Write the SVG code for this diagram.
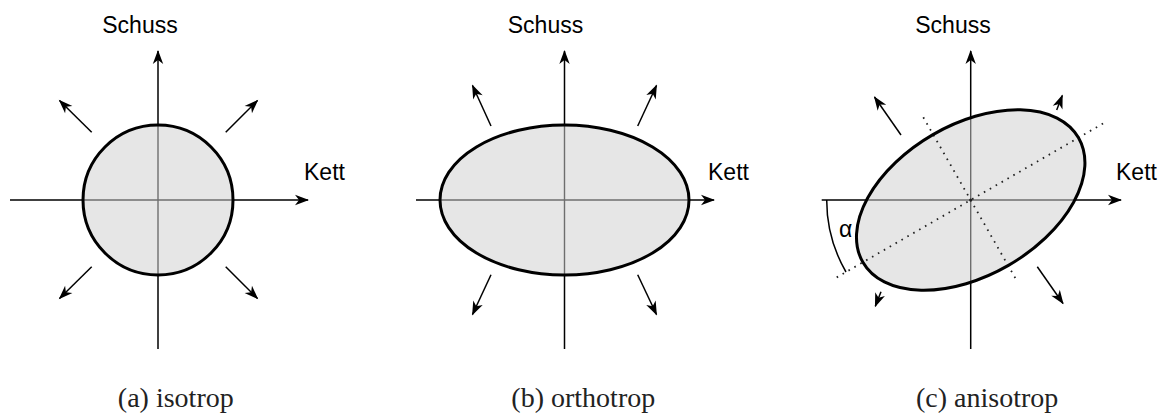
<svg xmlns="http://www.w3.org/2000/svg" width="1167" height="419" viewBox="0 0 1167 419">
<style>
.ax{stroke:#000;stroke-width:1.5;fill:none}
.axg{stroke:#6e6e6e;stroke-width:1.4;fill:none}
.arr{stroke:#000;stroke-width:1.5;fill:none}
.fillE{fill:#e6e6e6;stroke:none}
.strokeE{fill:none;stroke:#000;stroke-width:3}
.dot{stroke:#222;stroke-width:1.8;stroke-dasharray:1.6 5.2;fill:none}
.sans{font-family:"Liberation Sans",Arial,sans-serif;font-size:23px;fill:#000}
.cap{font-family:"Liberation Serif","Times New Roman",serif;font-size:28px;fill:#222}
</style>
<defs>
<marker id="ah" markerUnits="userSpaceOnUse" markerWidth="20" markerHeight="14" viewBox="-15 -7 20 14" refX="0" refY="0" orient="auto" overflow="visible">
<path d="M1,0 L-13,-5.2 L-9,0 L-13,5.2 Z" fill="#000"/>
</marker>
<clipPath id="cA"><circle cx="158" cy="200" r="75"/></clipPath>
<clipPath id="cB"><ellipse cx="564.5" cy="200" rx="124.5" ry="75"/></clipPath>
<clipPath id="cC"><ellipse cx="970.7" cy="200" rx="124.5" ry="75.5" transform="rotate(-30 970.7 200)"/></clipPath>
</defs>
<rect width="1167" height="419" fill="#fff"/>

<g id="connectors">
<line class="ax" x1="158" y1="349" x2="158" y2="51" marker-end="url(#ah)"/>
<line class="ax" x1="10" y1="200" x2="308" y2="200" marker-end="url(#ah)"/>
<line class="ax" x1="564.5" y1="349" x2="564.5" y2="51" marker-end="url(#ah)"/>
<line class="ax" x1="416" y1="200" x2="714" y2="200" marker-end="url(#ah)"/>
<line class="ax" x1="970.7" y1="349" x2="970.7" y2="51" marker-end="url(#ah)"/>
<line class="ax" x1="821.7" y1="200" x2="1121" y2="200" marker-end="url(#ah)"/>
<line class="arr" x1="91.7" y1="132.3" x2="59.5" y2="100.5" marker-end="url(#ah)"/>
<line class="arr" x1="225.7" y1="132.3" x2="257.5" y2="100.5" marker-end="url(#ah)"/>
<line class="arr" x1="91.7" y1="266.7" x2="59.5" y2="298.5" marker-end="url(#ah)"/>
<line class="arr" x1="225.7" y1="266.7" x2="257.5" y2="298.5" marker-end="url(#ah)"/>
<line class="arr" x1="491" y1="126" x2="472.5" y2="85.5" marker-end="url(#ah)"/>
<line class="arr" x1="637.7" y1="126" x2="656.5" y2="85.5" marker-end="url(#ah)"/>
<line class="arr" x1="491" y1="274.7" x2="472.5" y2="314.5" marker-end="url(#ah)"/>
<line class="arr" x1="637.7" y1="274.7" x2="656.5" y2="314.5" marker-end="url(#ah)"/>
<line class="arr" x1="901" y1="135" x2="874.5" y2="97" marker-end="url(#ah)"/>
<line class="arr" x1="1056.7" y1="110" x2="1062.3" y2="95.5" marker-end="url(#ah)"/>
<line class="arr" x1="881" y1="291.7" x2="875.3" y2="306.2" marker-end="url(#ah)"/>
<line class="arr" x1="1037.3" y1="266.7" x2="1063" y2="303.5" marker-end="url(#ah)"/>
</g>

<g id="node-a">
<circle class="fillE" cx="158" cy="200" r="75"/>
<g clip-path="url(#cA)">
<line class="axg" x1="158" y1="100" x2="158" y2="300"/>
<line class="axg" x1="60" y1="200" x2="260" y2="200"/>
</g>
<circle class="strokeE" cx="158" cy="200" r="75"/>
</g>

<g id="node-b">
<ellipse class="fillE" cx="564.5" cy="200" rx="124.5" ry="75"/>
<g clip-path="url(#cB)">
<line class="axg" x1="564.5" y1="100" x2="564.5" y2="300"/>
<line class="axg" x1="420" y1="200" x2="710" y2="200"/>
</g>
<ellipse class="strokeE" cx="564.5" cy="200" rx="124.5" ry="75"/>
</g>

<g id="node-c">
<ellipse class="fillE" cx="970.7" cy="200" rx="124.5" ry="75.5" transform="rotate(-30 970.7 200)"/>
<g clip-path="url(#cC)">
<line class="axg" x1="970.7" y1="80" x2="970.7" y2="320"/>
<line class="axg" x1="830" y1="200" x2="1110" y2="200"/>
</g>
<line class="dot" x1="836.7" y1="277.4" x2="1103.3" y2="123.4"/>
<line class="dot" x1="923.3" y1="117.3" x2="1016" y2="279.3"/>
<circle cx="970.7" cy="200" r="1.6" fill="#222"/>
<ellipse class="strokeE" cx="970.7" cy="200" rx="124.5" ry="75.5" transform="rotate(-30 970.7 200)"/>
<path class="arr" d="M 826.7,200 A 144,144 0 0 0 846,272"/>
<text class="sans" x="839" y="237">α</text>
</g>

<g id="labels">
<text class="sans" x="140" y="33" text-anchor="middle">Schuss</text>
<text class="sans" x="545.5" y="33" text-anchor="middle">Schuss</text>
<text class="sans" x="953" y="33" text-anchor="middle">Schuss</text>
<text class="sans" x="304" y="180">Kett</text>
<text class="sans" x="708" y="180">Kett</text>
<text class="sans" x="1116" y="180">Kett</text>
<text class="cap" x="175.8" y="407" text-anchor="middle">(a) isotrop</text>
<text class="cap" x="583.3" y="407" text-anchor="middle">(b) orthotrop</text>
<text class="cap" x="987.2" y="407" text-anchor="middle">(c) anisotrop</text>
</g>
</svg>
